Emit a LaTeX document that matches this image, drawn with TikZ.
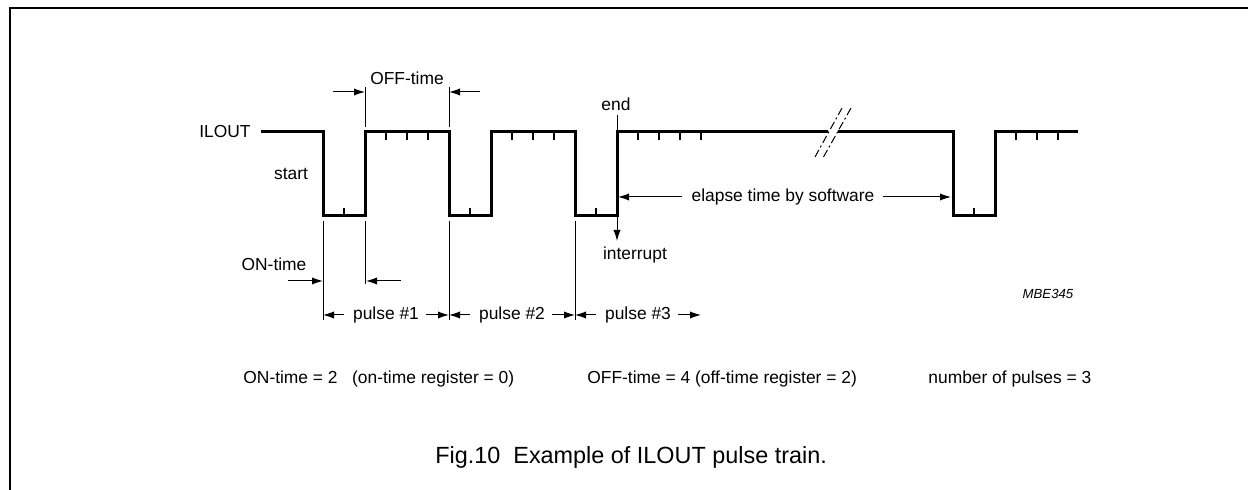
\documentclass[tikz,border=0pt]{standalone}
\usepackage{fontspec}
\setmainfont{Liberation Sans}
\usetikzlibrary{arrows.meta}
\usetikzlibrary{positioning}

\begin{document}
\begin{tikzpicture}[x=0.5pt,y=-0.5pt,
    wave/.style={line width=1.5pt, line join=miter},
    tick/.style={line width=0.7pt},
    thinline/.style={line width=0.5pt},
    dimarrow/.style={line width=0.5pt,-{Latex[length=5.5pt,width=3.6pt]}},
    lbl/.style={inner sep=0pt,font=\fontsize{8.7}{10}\selectfont}
    ]
\edef\yh{132}
\edef\yl{216}
\edef\yp{315}

\useasboundingbox (0,0) rectangle (1248,490);
\draw [line width=1.2pt](10,490) -- (10,8) -- (1248,8);

\draw [wave](261,\yh) -- (323,\yh) -- (323,\yl) -- (365,\yl) -- (365,\yh) -- (449,\yh) -- (449,\yl) -- (491,\yl) -- (491,\yh) -- (575,\yh) -- (575,\yl) -- (617,\yl) -- (617,\yh) -- (828,\yh);
\draw [wave](838,\yh) -- (953,\yh) -- (953,\yl) -- (995,\yl) -- (995,\yh) -- (1078,\yh);

\draw [tick](344,\yl) -- (344,\yl-8) (470,\yl) -- (470,\yl-8) (596,\yl) -- (596,\yl-8) (974,\yl) -- (974,\yl-8);
\draw [tick](386,\yh) -- (386,\yh+8) (407,\yh) -- (407,\yh+8) (428,\yh) -- (428,\yh+8);
\draw [tick](512,\yh) -- (512,\yh+8) (533,\yh) -- (533,\yh+8) (554,\yh) -- (554,\yh+8);
\draw [tick](638,\yh) -- (638,\yh+8) (659,\yh) -- (659,\yh+8) (680,\yh) -- (680,\yh+8) (701,\yh) -- (701,\yh+8);
\draw [tick](1016,\yh) -- (1016,\yh+8) (1037,\yh) -- (1037,\yh+8) (1058,\yh) -- (1058,\yh+8);

\draw [thinline, dash pattern=on 4pt off 1.5pt on 1pt off 1.5pt](815,157) -- (842,108);
\draw [thinline, dash pattern=on 4pt off 1.5pt on 1pt off 1.5pt](823.5,157) -- (851,108);

\node [lbl, anchor=mid east] (ilout) at (251,\yh) {ILOUT};
\node [lbl] (start) at (291,174) {start};

\node [lbl] (offtime) at (407,78) {OFF-time};
\draw [thinline](365,87) -- (365,127);
\draw [thinline](449,87) -- (449,127);
\coordinate (offa) at (365,92);
\coordinate (offb) at (449,92);
\draw [dimarrow]([xshift=-16pt]offa) -- (offa);
\draw [dimarrow]([xshift=15.5pt]offb) -- (offb);

\node [lbl] (end) at (616,104) {end};
\draw [thinline](617,115) -- (617,\yh);
\coordinate (endlow) at (617,\yl);
\node [lbl] (intr) at (635,255) {interrupt};
\draw [dimarrow](endlow) -- ([yshift=-12.5pt]endlow);

\node [lbl] (elapse) at (783,197) {elapse time by software};
\coordinate (elapsel) at (618,197);
\coordinate (elapser) at (951,197);
\draw [dimarrow]([xshift=-4.5pt]elapse.west) -- (elapsel);
\draw [dimarrow]([xshift=4pt]elapse.east) -- (elapser);

\draw [thinline](323,221) -- (323,320);
\draw [thinline](365,221) -- (365,284);
\draw [thinline](449,221) -- (449,320);
\draw [thinline](575,221) -- (575,320);

\node [lbl] (ontime) at (274,264) {ON-time};
\coordinate (ona) at (323,281);
\coordinate (onb) at (366,281);
\draw [dimarrow]([xshift=-17.5pt]ona) -- (ona);
\draw [dimarrow]([xshift=17.5pt]onb) -- (onb);

\node [lbl] (p1) at (386,\yp) {pulse \#1};
\node [lbl] (p2) at (512,\yp) {pulse \#2};
\node [lbl] (p3) at (638,\yp) {pulse \#3};
\coordinate (t1) at (323,\yp);
\coordinate (t2) at (449,\yp);
\coordinate (t3) at (575,\yp);
\coordinate (t4) at (701,\yp);
\draw [dimarrow]([xshift=-4.5pt]p1.west) -- (t1);
\draw [dimarrow]([xshift=3.5pt]p1.east) -- (t2);
\draw [dimarrow]([xshift=-4.5pt]p2.west) -- (t2);
\draw [dimarrow]([xshift=3.5pt]p2.east) -- (t3);
\draw [dimarrow]([xshift=-4.5pt]p3.west) -- (t3);
\draw [dimarrow]([xshift=3.5pt]p3.east) -- (t4);

\node [lbl, font=\fontsize{6.6}{8}\selectfont\itshape] (mbe) at (1048,294) {MBE345};

\node [lbl, anchor=mid west] (eqon) at (243,378) {ON-time = 2~~~(on-time register = 0)};
\node [lbl, anchor=mid west] (eqoff) at (587,378) {OFF-time = 4 (off-time register = 2)};
\node [lbl, anchor=mid west] (eqnum) at (928,378) {number of pulses = 3};

\node [inner sep=0pt, anchor=mid west, font=\fontsize{11.7}{14}\selectfont] (caption) at (435,458) {Fig.10~~Example of ILOUT pulse train.};
\end{tikzpicture}
\end{document}
